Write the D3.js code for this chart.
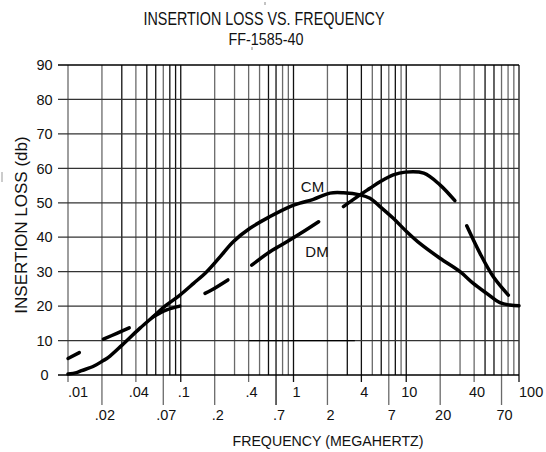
<!DOCTYPE html>
<html><head><meta charset="utf-8">
<script src="https://cdn.jsdelivr.net/npm/d3@7"></script>
<style>
body{margin:0;background:#fff}
svg{display:block}
text{font-family:"Liberation Sans",Arial,Helvetica,sans-serif;fill:#111}
</style>
</head><body>
<svg id="chart" width="546" height="452"></svg>
<script>
// ---------- data ----------
const titleLine1 = "INSERTION LOSS VS. FREQUENCY";
const titleLine2 = "FF-1585-40";
const xAxisTitle = "FREQUENCY (MEGAHERTZ)";
const yAxisTitle = "INSERTION LOSS (db)";

const yTickValues = [0, 10, 20, 30, 40, 50, 60, 70, 80, 90];
const topRowTicks = [0.01, 0.04, 0.1, 0.4, 1, 4, 10, 40, 100];
const topRowLabels = [".01", ".04", ".1", ".4", "1", "4", "10", "40", "100"];
const bottomRowTicks = [0.02, 0.07, 0.2, 0.7, 2, 7, 20, 70];
const bottomRowLabels = [".02", ".07", ".2", ".7", "2", "7", "20", "70"];
const darkGridFreqs = [0.03, 0.05, 0.06, 0.08, 0.09, 0.1, 0.6, 0.7, 1, 3, 4, 6, 8, 10, 50, 60, 100];

// CM curve (solid)
const cmFreq = [0.01, 0.0119, 0.0132, 0.017, 0.0206, 0.0228, 0.030, 0.0435, 0.0591, 0.0725, 0.0984,
  0.130, 0.170, 0.223, 0.292, 0.411, 0.619, 0.931, 1.14, 1.5, 2.11, 2.77, 3.89, 4.77, 5.85, 7.67,
  10.1, 13.2, 19.9, 30, 39.3, 51.7, 67.8, 83.2, 100];
const cmLoss = [0.3, 0.7, 1.25, 2.6, 4.2, 5.1, 8.6, 13.6, 17.4, 20.0, 23.2,
  26.6, 30.0, 34.3, 38.7, 42.6, 46.0, 48.9, 49.9, 51.0, 52.8, 52.9, 52.3, 51.3, 48.9, 45.5,
  41.6, 38.2, 33.9, 30.0, 26.6, 23.7, 21.0, 20.3, 20.1];

// DM curve (broken segments)
const dmFreq = [
  [0.01, 0.0126],
  [0.0206, 0.0271, 0.0349],
  [0.057, 0.075, 0.098],
  [0.164, 0.186, 0.262],
  [0.426, 0.619, 0.76, 1.14, 1.67],
  [2.77, 3.89, 4.77, 5.85, 7.67, 9.8, 14.3, 19.9, 27],
  [34.4, 45.1, 59.2, 80.4]
];
const dmLoss = [
  [4.8, 6.5],
  [10.4, 12.1, 13.7],
  [16.9, 18.9, 20.0],
  [23.7, 24.6, 27.6],
  [31.9, 35.8, 37.5, 41.0, 44.5],
  [48.9, 52.3, 54.2, 56.1, 58.1, 58.9, 58.6, 55.2, 50.6],
  [43.3, 35.3, 28.5, 23.2]
];

const seriesLabels = ["CM", "DM"];

// ---------- layout ----------
const svg = d3.select("#chart");
const x = d3.scaleLog().domain([0.01, 100]).range([68, 519]);
const y = d3.scaleLinear().domain([0, 90]).range([375, 65]);

// all minor frequencies for grid
const gridFreqs = [];
[0.01, 0.1, 1, 10].forEach(dec => { for (let k = 1; k <= 9; k++) gridFreqs.push(+(dec * k).toPrecision(3)); });
gridFreqs.push(100);

const near = (arr, f) => arr.some(d => Math.abs(d - f) / f < 1e-6);

// vertical grid lines
svg.append("g").selectAll("line").data(gridFreqs).join("line")
  .attr("x1", d => x(d)).attr("x2", d => x(d))
  .attr("y1", y(90))
  .attr("y2", d => near(bottomRowTicks, d) ? 405 : (near(topRowTicks, d) ? 382 : y(0)))
  .attr("stroke", d => near(darkGridFreqs, d) ? "#111" : "#6a6a6a")
  .attr("stroke-width", 1.3);

// horizontal grid lines
svg.append("g").selectAll("line").data(yTickValues).join("line")
  .attr("x1", 58).attr("x2", x(100))
  .attr("y1", d => y(d)).attr("y2", d => y(d))
  .attr("stroke", d => (d === 90 || d === 0) ? "#000" : "#333")
  .attr("stroke-width", 1.3);
// darker stretch of the 10 dB line seen in the original scan
svg.append("line").attr("x1", x(0.4)).attr("x2", x(3.5))
  .attr("y1", y(10)).attr("y2", y(10)).attr("stroke", "#000").attr("stroke-width", 1.3);

// small scan specks
svg.append("line").attr("x1", 265).attr("x2", 265).attr("y1", 2).attr("y2", 5).attr("stroke", "#888");
svg.append("line").attr("x1", 252).attr("x2", 252).attr("y1", 47).attr("y2", 50).attr("stroke", "#888");
svg.append("line").attr("x1", 2).attr("x2", 2).attr("y1", 172).attr("y2", 182).attr("stroke", "#999");

// y tick labels
svg.append("g").selectAll("text").data(yTickValues).join("text")
  .attr("x", 44.5).attr("y", d => y(d)).attr("dy", "0.36em")
  .attr("text-anchor", "middle").attr("font-size", 14.5)
  .text(d => d);

// x tick labels
svg.append("g").selectAll("text").data(topRowTicks).join("text")
  .attr("x", (d, i) => (i === 0 || i === topRowTicks.length - 1) ? x(d) : x(d) + 3)
  .attr("y", 397)
  .attr("text-anchor", (d, i) => (i === 0 || i === topRowTicks.length - 1) ? "start" : "middle")
  .attr("font-size", 14.5)
  .text((d, i) => topRowLabels[i]);
svg.append("g").selectAll("text").data(bottomRowTicks).join("text")
  .attr("x", d => x(d) + 3).attr("y", 419.5)
  .attr("text-anchor", "middle").attr("font-size", 14.5)
  .text((d, i) => bottomRowLabels[i]);

// titles
svg.append("text").attr("x", 264).attr("y", 25).attr("text-anchor", "middle")
  .attr("font-size", 17.5).attr("textLength", 241).attr("lengthAdjust", "spacingAndGlyphs")
  .text(titleLine1);
svg.append("text").attr("x", 266).attr("y", 45).attr("text-anchor", "middle")
  .attr("font-size", 16.3).attr("textLength", 75).attr("lengthAdjust", "spacingAndGlyphs")
  .text(titleLine2);
svg.append("text").attr("x", 328).attr("y", 446).attr("text-anchor", "middle")
  .attr("font-size", 14.2).text(xAxisTitle);
svg.append("text").attr("transform", "translate(27,225) rotate(-90)")
  .attr("text-anchor", "middle").attr("font-size", 17).text(yAxisTitle);

// curves
const line = d3.line().x(d => x(d[0])).y(d => y(d[1])).curve(d3.curveCatmullRom.alpha(0.5));
svg.append("path")
  .attr("d", line(cmFreq.map((f, i) => [f, cmLoss[i]])))
  .attr("fill", "none").attr("stroke", "#000").attr("stroke-width", 3.5)
  .attr("stroke-linecap", "round").attr("stroke-linejoin", "round");
svg.append("g").selectAll("path").data(dmFreq).join("path")
  .attr("d", (seg, s) => line(seg.map((f, i) => [f, dmLoss[s][i]])))
  .attr("fill", "none").attr("stroke", "#000").attr("stroke-width", 3.5)
  .attr("stroke-linecap", "round").attr("stroke-linejoin", "round");

// curve labels
svg.append("text").attr("x", 312.5).attr("y", 191.7).attr("text-anchor", "middle")
  .attr("font-size", 15).text(seriesLabels[0]);
svg.append("text").attr("x", 317).attr("y", 256.7).attr("text-anchor", "middle")
  .attr("font-size", 15).text(seriesLabels[1]);
</script>
</body></html>
